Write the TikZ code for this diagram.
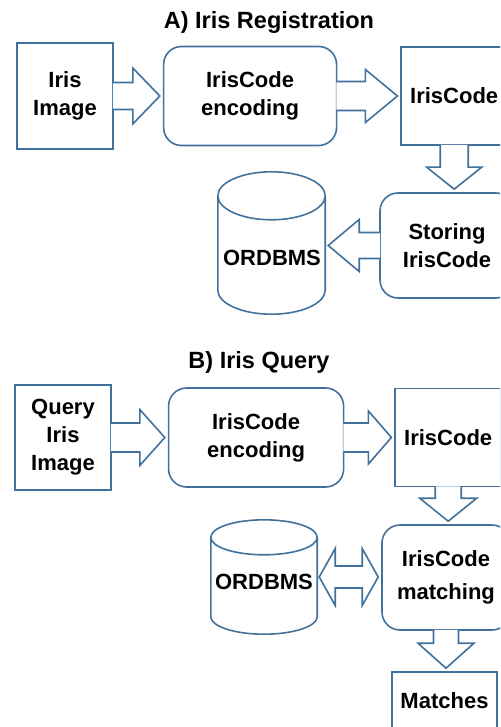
\documentclass[tikz,border=0pt]{standalone}
\usepackage{fontspec}
\setmainfont{Liberation Sans}
\usepackage{tikz}
\usetikzlibrary{calc,positioning}

\definecolor{boxblue}{HTML}{41719C}
\newcommand{\boxfont}{\bfseries\fontsize{22}{28}\selectfont}
\newcommand{\headfont}{\bfseries\fontsize{23.5}{28}\selectfont}

% fat arrows: #3 shaft half width, #4 head half width, #5 head length
\newcommand{\rightblock}[5]{%
  \filldraw[blockarrow] let \p1=(#1.east), \p2=(#2.west) in
    (\x1-1pt,\y1+#3pt) -- (\x2-3pt-#5pt,\y1+#3pt) -- (\x2-3pt-#5pt,\y1+#4pt)
    -- (\x2-3pt,\y1) -- (\x2-3pt-#5pt,\y1-#4pt) -- (\x2-3pt-#5pt,\y1-#3pt) -- (\x1-1pt,\y1-#3pt);}
\newcommand{\leftblock}[5]{%
  \filldraw[blockarrow] let \p1=(#1.west), \p2=(#2.east) in
    (\x1+1pt,\y1+#3pt) -- (\x2+3pt+#5pt,\y1+#3pt) -- (\x2+3pt+#5pt,\y1+#4pt)
    -- (\x2+3pt,\y1) -- (\x2+3pt+#5pt,\y1-#4pt) -- (\x2+3pt+#5pt,\y1-#3pt) -- (\x1+1pt,\y1-#3pt);}
\newcommand{\downblock}[5]{%
  \filldraw[blockarrow] let \p1=(#1.south), \p2=(#2.north) in
    (\x1-#3pt,\y1+1pt) -- (\x1-#3pt,\y2+3pt+#5pt) -- (\x1-#4pt,\y2+3pt+#5pt)
    -- (\x1,\y2+3pt) -- (\x1+#4pt,\y2+3pt+#5pt) -- (\x1+#3pt,\y2+3pt+#5pt) -- (\x1+#3pt,\y1+1pt);}
\newcommand{\bothblock}[5]{%
  \filldraw[blockarrow] let \p1=(#1.east), \p2=(#2.west) in
    (\x1+2pt,\y1) -- (\x1+2pt+#5pt,\y1+#4pt) -- (\x1+2pt+#5pt,\y1+#3pt)
    -- (\x2-3pt-#5pt,\y1+#3pt) -- (\x2-3pt-#5pt,\y1+#4pt) -- (\x2-3pt,\y1)
    -- (\x2-3pt-#5pt,\y1-#4pt) -- (\x2-3pt-#5pt,\y1-#3pt) -- (\x1+2pt+#5pt,\y1-#3pt)
    -- (\x1+2pt+#5pt,\y1-#4pt) -- cycle;}
% database drum round a box node, #2 = half height of the ellipse
\newcommand{\dbdrum}[2]{%
  \draw[dbline] let \p1=(#1.north west), \p2=(#1.south east), \n1={(\x2-\x1)/2} in
    (\x1,\y1-#2pt) -- (\x1,\y2+#2pt) arc[start angle=180,end angle=360,x radius=\n1,y radius=#2pt]
    -- (\x2,\y1-#2pt) arc[start angle=0,end angle=180,x radius=\n1,y radius=#2pt]
    arc[start angle=180,end angle=360,x radius=\n1,y radius=#2pt];}

\begin{document}
\begin{tikzpicture}[x=1pt,y=-1pt,every node/.style={font=\boxfont,align=center}]

\tikzstyle{plain} = [rectangle, draw=boxblue, line width=1.6pt, fill=white, inner sep=2pt]
\tikzstyle{soft} = [plain, rounded corners=18pt]
\tikzstyle{blockarrow} = [draw=boxblue, line width=1.6pt, fill=white, line join=miter]
\tikzstyle{dbline} = [draw=boxblue, line width=1.6pt]
\tikzstyle{dbbox} = [rectangle, minimum width=107pt, inner sep=0pt]
\tikzstyle{heading} = [font=\headfont]

\useasboundingbox (0,0) rectangle (500,727);
\clip (0,0) rectangle (500,727);

% A) registration
\node [heading] (headA) at (269,22) {A) Iris Registration};
\node [plain, minimum width=96pt, minimum height=106pt] (imageA) at (65,96) {Iris\\Image};
\node [soft, minimum width=173pt, minimum height=99pt, right=49pt of imageA] (encodeA) {IrisCode\\encoding};
\node [plain, minimum width=106pt, minimum height=98pt, right=63pt of encodeA] (codeA) {IrisCode};
\node [soft, minimum width=134pt, minimum height=105pt] (storeA) at (447,245.5) {Storing\\IrisCode};
\node [dbbox, minimum height=142pt] (dbA) at (271.5,243) {};
\node [] (dbtextA) at (272,258) {ORDBMS};
\dbdrum{dbA}{24}

\rightblock{imageA}{encodeA}{13.5}{28}{27}
\rightblock{encodeA}{codeA}{14.5}{26.5}{32}
\downblock{codeA}{storeA}{14}{27.5}{22}
\leftblock{storeA}{dbA}{13}{26}{31}

% B) query
\node [heading] (headB) at (259,362) {B) Iris Query};
\node [plain, minimum width=96pt, minimum height=105pt] (imageB) at (63,437.5) {Query\\Iris\\Image};
\node [soft, minimum width=175pt, minimum height=99pt, right=56pt of imageB] (encodeB) {IrisCode\\encoding};
\node [plain, minimum width=106pt, minimum height=98pt, right=50pt of encodeB] (codeB) {IrisCode};
\node [soft, minimum width=128pt, minimum height=105pt] (matchB) at (446,577.5) {IrisCode\\[5pt]matching};
\node [dbbox, minimum width=106pt, minimum height=114pt] (dbB) at (264,577) {};
\node [] (dbtextB) at (264,582) {ORDBMS};
\dbdrum{dbB}{17.5}
\node [plain, minimum width=105pt, minimum height=57pt] (resultB) at (444.5,700.5) {Matches};

\rightblock{imageB}{encodeB}{14.5}{28}{25}
\rightblock{encodeB}{codeB}{14.5}{26.5}{23}
\downblock{codeB}{matchB}{13}{28.5}{23}
\bothblock{dbB}{matchB}{11}{28.5}{16}
\downblock{matchB}{resultB}{12.5}{28}{25}

\end{tikzpicture}
\end{document}
